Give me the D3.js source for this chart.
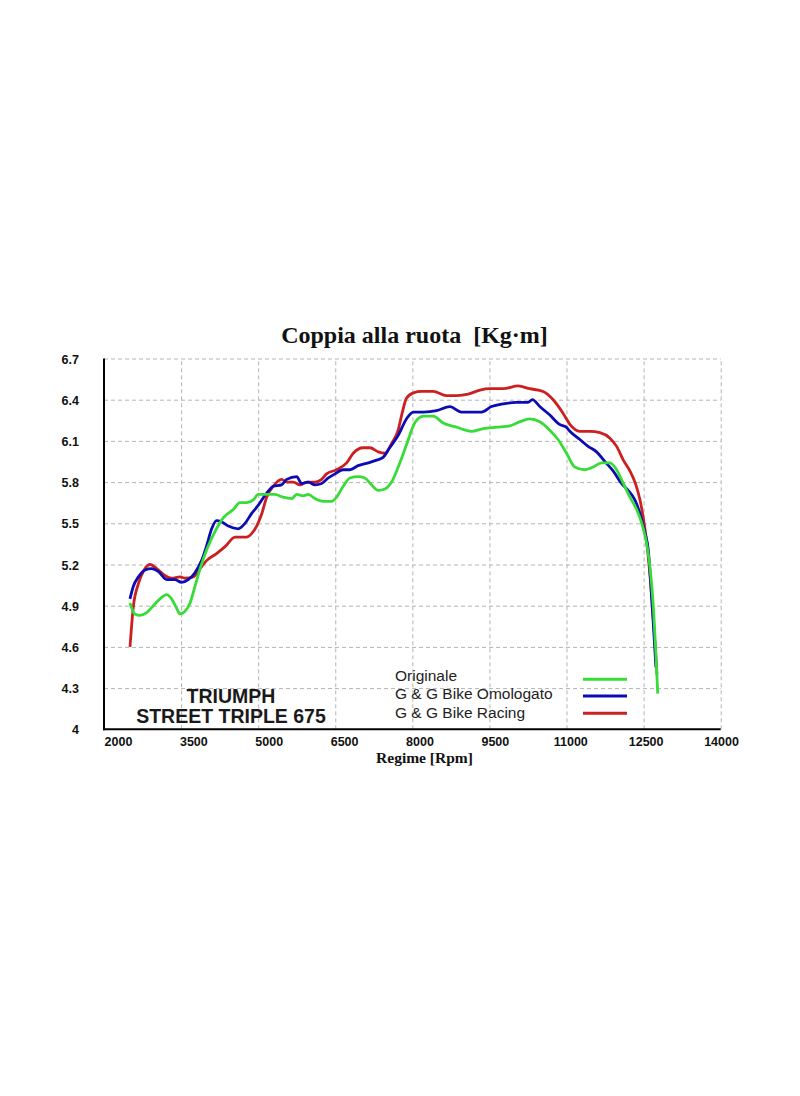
<!DOCTYPE html>
<html>
<head>
<meta charset="utf-8">
<script src="https://cdn.jsdelivr.net/npm/d3@7"></script>
<style>
    body { margin: 0; background: #fff; }
    svg { display: block; }
    .grid line { stroke: #b4b4b4; stroke-dasharray: 4,3; }
    .grid path { display: none; }
    .ticks path, .ticks line { display: none; }
    .ticks text { font-family: "Liberation Sans", Arial, sans-serif; font-weight: bold; font-size: 12.5px; fill: #111; }
</style>
</head>
<body>
<svg width="800" height="1096"></svg>
<script>
// chart values (rpm, Kg·m)
var xTicks = [2000, 3500, 5000, 6500, 8000, 9500, 11000, 12500, 14000];
var yTicks = [4, 4.3, 4.6, 4.9, 5.2, 5.5, 5.8, 6.1, 6.4, 6.7];
var seriesNames = ["Originale", "G & G Bike Omologato", "G & G Bike Racing"];
var seriesColors = ["#38dc38", "#0c0cb4", "#cc1f1f"];

var originaleRpm = [2505, 2600, 2700, 2830, 2960, 3090, 3220, 3315, 3415, 3480, 3575, 3675, 3770, 3870, 4000, 4160, 4320, 4515, 4645, 4775, 4905, 5000,
    5165, 5325, 5485, 5650, 5750, 5875, 5975, 6105, 6265, 6430, 6525, 6655, 6785, 6945, 7075, 7205, 7335, 7465, 7595, 7725, 7885, 8045,
    8215, 8405, 8600, 8860, 9150, 9380, 9640, 9900, 10095, 10285, 10480, 10670, 10835, 11000, 11160, 11355, 11520, 11680, 11845, 11975,
    12105, 12235, 12365, 12480, 12570, 12635, 12690, 12735, 12775];
var originaleVal = [4.92, 4.84, 4.83, 4.85, 4.90, 4.95, 4.98, 4.95, 4.88, 4.84, 4.86, 4.92, 5.04, 5.17, 5.31, 5.44, 5.54, 5.60, 5.65, 5.65, 5.67, 5.71,
    5.71, 5.71, 5.69, 5.68, 5.71, 5.70, 5.71, 5.68, 5.66, 5.66, 5.69, 5.77, 5.83, 5.84, 5.83, 5.78, 5.74, 5.75, 5.80, 5.91, 6.07, 6.23,
    6.28, 6.28, 6.23, 6.20, 6.17, 6.19, 6.20, 6.21, 6.24, 6.26, 6.24, 6.18, 6.11, 6.01, 5.91, 5.89, 5.91, 5.94, 5.94, 5.89,
    5.79, 5.69, 5.60, 5.48, 5.33, 5.14, 4.89, 4.58, 4.26];

var omologatoRpm = [2505, 2570, 2670, 2800, 2930, 3055, 3220, 3380, 3510, 3640, 3770, 3900, 4000, 4095, 4190, 4290, 4420, 4610, 4745, 4870, 5000,
    5165, 5295, 5455, 5555, 5750, 5845, 5975, 6105, 6235, 6365, 6495, 6655, 6785, 6945, 7140, 7305, 7430, 7560, 7725, 7885, 8020,
    8215, 8470, 8730, 8955, 9150, 9345, 9540, 9765, 10025, 10250, 10335, 10480, 10670, 10865, 10995, 11065, 11260, 11420, 11585, 11745,
    11910, 12070, 12200, 12330, 12430, 12525, 12590, 12650, 12700, 12740];
var omologatoVal = [4.95, 5.04, 5.11, 5.16, 5.17, 5.15, 5.09, 5.09, 5.07, 5.09, 5.14, 5.23, 5.34, 5.46, 5.52, 5.51, 5.48, 5.46, 5.50, 5.57, 5.63,
    5.72, 5.77, 5.78, 5.82, 5.84, 5.79, 5.80, 5.78, 5.79, 5.83, 5.86, 5.89, 5.89, 5.92, 5.94, 5.96, 5.98, 6.05, 6.14, 6.26, 6.31,
    6.31, 6.32, 6.35, 6.31, 6.31, 6.31, 6.35, 6.37, 6.38, 6.38, 6.40, 6.35, 6.29, 6.22, 6.20, 6.17, 6.11, 6.06, 6.02, 5.95,
    5.88, 5.79, 5.74, 5.67, 5.57, 5.43, 5.31, 5.00, 4.70, 4.45];

var racingRpm = [2506, 2570, 2670, 2765, 2895, 3025, 3185, 3315, 3480, 3575, 3740, 3870, 4000, 4190, 4355, 4550, 4775, 4905, 4970, 5070, 5165,
    5295, 5455, 5555, 5685, 5815, 5945, 6105, 6235, 6330, 6525, 6720, 6850, 7045, 7175, 7335, 7465, 7595, 7725, 7800, 7885, 8020,
    8180, 8405, 8665, 8860, 9085, 9315, 9510, 9765, 10060, 10285, 10545, 10740, 10935, 11065, 11260, 11455, 11650, 11845, 11975,
    12105, 12235, 12350, 12430, 12510, 12570, 12640, 12700, 12760];
var racingVal = [4.60, 4.89, 5.06, 5.15, 5.20, 5.17, 5.12, 5.10, 5.11, 5.10, 5.11, 5.17, 5.23, 5.28, 5.33, 5.40, 5.40, 5.44, 5.48, 5.57, 5.69,
    5.77, 5.82, 5.80, 5.80, 5.78, 5.80, 5.80, 5.82, 5.86, 5.89, 5.94, 6.01, 6.05, 6.05, 6.02, 6.01, 6.08, 6.18, 6.30, 6.41, 6.45,
    6.46, 6.46, 6.43, 6.43, 6.44, 6.47, 6.48, 6.48, 6.50, 6.48, 6.46, 6.40, 6.30, 6.22, 6.17, 6.17, 6.16, 6.12, 6.06,
    5.96, 5.88, 5.78, 5.67, 5.50, 5.33, 5.05, 4.75, 4.40];


var svg = d3.select('svg');
var plot = {l: 104, r: 720.7, t: 358.5, b: 729.3};

var xScale = d3.scaleLinear().domain([2000, 14000]).range([plot.l, plot.r]);
var yScale = d3.scaleLinear().domain([4, 6.7]).range([plot.b, plot.t]);
//the sheet spaces its rpm labels a little tighter than its grid
var xLabelScale = d3.scaleLinear().domain([2000, 14000]).range([118, 721]);

//dashed grid
svg.append('g')
    .attr('class', 'grid')
    .attr('transform', 'translate(0,' + plot.b + ')')
    .call(d3.axisBottom(xScale).tickValues(xTicks.slice(1)).tickSize(-(plot.b - plot.t)).tickFormat(''));
svg.append('g')
    .attr('class', 'grid')
    .attr('transform', 'translate(' + plot.l + ',0)')
    .call(d3.axisLeft(yScale).tickValues(yTicks.slice(1)).tickSize(-(plot.r - plot.l)).tickFormat(''));

//tick labels
var xAxisG = svg.append('g')
    .attr('class', 'ticks')
    .attr('transform', 'translate(0,' + plot.b + ')')
    .call(d3.axisBottom(xLabelScale).tickValues(xTicks).tickSize(0).tickFormat(d3.format('d')));
xAxisG.selectAll('text')
    .attr('y', 17)
    .attr('dy', null);

var yAxisG = svg.append('g')
    .attr('class', 'ticks')
    .attr('transform', 'translate(' + plot.l + ',0)')
    .call(d3.axisLeft(yScale).tickValues(yTicks).tickSize(0).tickFormat(function(d) { return d3.format('~g')(d); }));
yAxisG.selectAll('text')
    .attr('x', -25)
    .attr('dy', '0.36em');

//black axis lines
svg.append('line')
    .attr('x1', plot.l).attr('x2', plot.l)
    .attr('y1', plot.t).attr('y2', plot.b + 1)
    .attr('stroke', '#000').attr('stroke-width', 2);
svg.append('line')
    .attr('x1', plot.l - 1).attr('x2', plot.r)
    .attr('y1', plot.b).attr('y2', plot.b)
    .attr('stroke', '#000').attr('stroke-width', 2);

//curves
var line = d3.line()
    .x(function(d) { return xScale(d[0]); })
    .y(function(d) { return yScale(d[1]); })
    .curve(d3.curveMonotoneX);

function zipSeries(rpm, val) {
    var out = [];
    for (var i = 0; i < rpm.length; i++) {
        out.push([rpm[i], val[i]]);
    }
    return out;
}

var curves = [
    zipSeries(racingRpm, racingVal),
    zipSeries(omologatoRpm, omologatoVal),
    zipSeries(originaleRpm, originaleVal)
];
var curveColors = [seriesColors[2], seriesColors[1], seriesColors[0]];

for (var i = 0; i < curves.length; i++) {
    svg.append('path')
        .datum(curves[i])
        .attr('fill', 'none')
        .attr('stroke', curveColors[i])
        .attr('stroke-width', 2.8)
        .attr('stroke-linejoin', 'round')
        .attr('d', line);
}

//titles
svg.append('text')
    .attr('x', 414.5)
    .attr('y', 343)
    .attr('text-anchor', 'middle')
    .attr('style', 'white-space: pre; font-family: "Liberation Serif", "Times New Roman", serif; font-weight: bold; font-size: 24px; fill: #111;')
    .text('Coppia alla ruota  [Kg\u00b7m]');

svg.append('text')
    .attr('x', 424.5)
    .attr('y', 763)
    .attr('text-anchor', 'middle')
    .attr('style', 'font-family: "Liberation Serif", "Times New Roman", serif; font-weight: bold; font-size: 15.5px; fill: #111;')
    .text('Regime [Rpm]');

var bikeLabel = ['TRIUMPH', 'STREET TRIPLE 675'];
for (var i = 0; i < bikeLabel.length; i++) {
    svg.append('text')
        .attr('x', 231)
        .attr('y', 703.3 + i * 20)
        .attr('text-anchor', 'middle')
        .attr('style', 'font-family: "Liberation Sans", Arial, sans-serif; font-weight: bold; font-size: 19.5px; fill: #1a1a1a;')
        .text(bikeLabel[i]);
}

//legend
var legendY = [680.5, 699.3, 718.3];
var legendLineY = [679.3, 696, 713.3];
for (var i = 0; i < seriesNames.length; i++) {
    svg.append('text')
        .attr('x', 395)
        .attr('y', legendY[i])
        .attr('style', 'font-family: "Liberation Sans", Arial, sans-serif; font-size: 15.5px; fill: #222;')
        .text(seriesNames[i]);
    svg.append('line')
        .attr('x1', 583).attr('x2', 627)
        .attr('y1', legendLineY[i]).attr('y2', legendLineY[i])
        .attr('stroke', seriesColors[i])
        .attr('stroke-width', 3);
}
</script>
</body>
</html>
